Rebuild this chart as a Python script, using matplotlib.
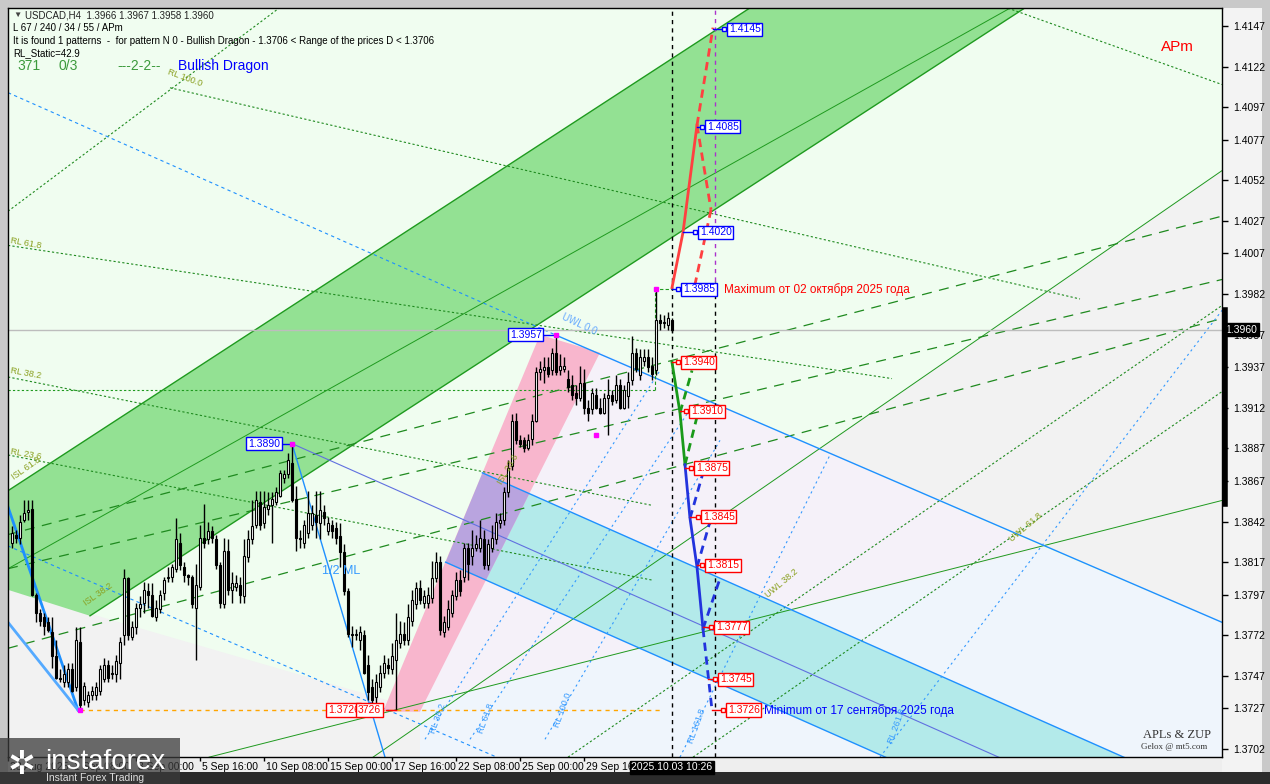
import matplotlib.pyplot as plt
from matplotlib.patches import Polygon, Rectangle

plt.rcParams['font.family'] = ['Liberation Sans', 'DejaVu Sans']

# H4 candles, bar 0 .. 165 (last = 2025.10.03 08:00)
opens = [1.3829, 1.3834, 1.3832, 1.3843, 1.3848, 1.3850, 1.3797, 1.3786, 1.3783, 1.3780,
         1.3774, 1.3759, 1.3746, 1.3743, 1.3743, 1.3751, 1.3740, 1.3768, 1.3732, 1.3731,
         1.3735, 1.3735, 1.3738, 1.3745, 1.3754, 1.3749, 1.3748, 1.3755, 1.3772, 1.3807,
         1.3771, 1.3777, 1.3789, 1.3792, 1.3799, 1.3797, 1.3783, 1.3788, 1.3798, 1.3807,
         1.3808, 1.3813, 1.3829, 1.3814, 1.3809, 1.3808, 1.3789, 1.3802, 1.3832, 1.3831,
         1.3836, 1.3831, 1.3815, 1.3791, 1.3824, 1.3800, 1.3802, 1.3803, 1.3796, 1.3820,
         1.3831, 1.3840, 1.3854, 1.3841, 1.3850, 1.3852, 1.3854, 1.3858, 1.3869, 1.3871,
         1.3878, 1.3856, 1.3832, 1.3829, 1.3835, 1.3840, 1.3846, 1.3841, 1.3848, 1.3836,
         1.3840, 1.3838, 1.3833, 1.3823, 1.3799, 1.3773, 1.3772, 1.3769, 1.3772, 1.3754,
         1.3740, 1.3734, 1.3740, 1.3749, 1.3754, 1.3751, 1.3757, 1.3767, 1.3773, 1.3769,
         1.3781, 1.3791, 1.3801, 1.3792, 1.3792, 1.3795, 1.3807, 1.3817, 1.3774, 1.3777,
         1.3786, 1.3796, 1.3806, 1.3808, 1.3826, 1.3821, 1.3826, 1.3826, 1.3831, 1.3815,
         1.3826, 1.3831, 1.3841, 1.3843, 1.3860, 1.3876, 1.3904, 1.3892, 1.3892, 1.3887,
         1.3893, 1.3904, 1.3934, 1.3935, 1.3937, 1.3935, 1.3946, 1.3935, 1.3936, 1.3930,
         1.3926, 1.3921, 1.3918, 1.3927, 1.3912, 1.3911, 1.3920, 1.3912, 1.3909, 1.3918,
         1.3920, 1.3917, 1.3926, 1.3912, 1.3919, 1.3929, 1.3946, 1.3932, 1.3941, 1.3943,
         1.3938, 1.3935, 1.3966, 1.3964, 1.3963, 1.3966]
highs = [1.3839, 1.3837, 1.3846, 1.3855, 1.3855, 1.3855, 1.3798, 1.3788, 1.3786, 1.3783,
         1.3783, 1.3769, 1.3751, 1.3754, 1.3755, 1.3755, 1.3777, 1.3777, 1.3743, 1.3738,
         1.3741, 1.3743, 1.3754, 1.3758, 1.3757, 1.3754, 1.3760, 1.3771, 1.3813, 1.3808,
         1.3781, 1.3792, 1.3796, 1.3805, 1.3804, 1.3804, 1.3794, 1.3800, 1.3808, 1.3814,
         1.3816, 1.3844, 1.3835, 1.3817, 1.3810, 1.3809, 1.3816, 1.3840, 1.3853, 1.3842,
         1.3839, 1.3834, 1.3817, 1.3832, 1.3831, 1.3811, 1.3809, 1.3808, 1.3831, 1.3837,
         1.3855, 1.3861, 1.3861, 1.3861, 1.3860, 1.3860, 1.3863, 1.3874, 1.3874, 1.3884,
         1.3890, 1.3864, 1.3837, 1.3843, 1.3861, 1.3852, 1.3861, 1.3861, 1.3852, 1.3845,
         1.3843, 1.3842, 1.3841, 1.3828, 1.3801, 1.3778, 1.3776, 1.3778, 1.3775, 1.3760,
         1.3745, 1.3748, 1.3754, 1.3760, 1.3758, 1.3767, 1.3786, 1.3781, 1.3780, 1.3791,
         1.3800, 1.3805, 1.3806, 1.3800, 1.3802, 1.3818, 1.3823, 1.3821, 1.3784, 1.3794,
         1.3800, 1.3811, 1.3812, 1.3829, 1.3829, 1.3837, 1.3834, 1.3843, 1.3837, 1.3831,
         1.3840, 1.3847, 1.3847, 1.3863, 1.3880, 1.3908, 1.3909, 1.3895, 1.3894, 1.3896,
         1.3908, 1.3937, 1.3941, 1.3943, 1.3943, 1.3949, 1.3957, 1.3945, 1.3943, 1.3935,
         1.3932, 1.3926, 1.3938, 1.3936, 1.3917, 1.3924, 1.3924, 1.3918, 1.3921, 1.3930,
         1.3923, 1.3932, 1.3930, 1.3926, 1.3934, 1.3956, 1.3949, 1.3948, 1.3948, 1.3948,
         1.3943, 1.3985, 1.3970, 1.3969, 1.3971, 1.3967]
lows = [1.3826, 1.3829, 1.3828, 1.3842, 1.3843, 1.3796, 1.3780, 1.3778, 1.3772, 1.3774,
        1.3752, 1.3745, 1.3743, 1.3740, 1.3740, 1.3737, 1.3738, 1.3726, 1.3729, 1.3728,
        1.3732, 1.3732, 1.3735, 1.3743, 1.3743, 1.3745, 1.3743, 1.3745, 1.3766, 1.3769,
        1.3769, 1.3773, 1.3783, 1.3786, 1.3789, 1.3783, 1.3781, 1.3786, 1.3794, 1.3805,
        1.3805, 1.3811, 1.3812, 1.3805, 1.3803, 1.3789, 1.3757, 1.3800, 1.3826, 1.3828,
        1.3829, 1.3813, 1.3789, 1.3789, 1.3797, 1.3792, 1.3799, 1.3792, 1.3792, 1.3817,
        1.3828, 1.3838, 1.3837, 1.3838, 1.3846, 1.3829, 1.3852, 1.3857, 1.3866, 1.3869,
        1.3854, 1.3824, 1.3826, 1.3826, 1.3832, 1.3837, 1.3832, 1.3831, 1.3840, 1.3834,
        1.3832, 1.3828, 1.3814, 1.3797, 1.3771, 1.3765, 1.3769, 1.3763, 1.3748, 1.3732,
        1.3729, 1.3729, 1.3737, 1.3746, 1.3748, 1.3748, 1.3726, 1.3764, 1.3766, 1.3766,
        1.3778, 1.3788, 1.3791, 1.3789, 1.3789, 1.3792, 1.3805, 1.3772, 1.3771, 1.3775,
        1.3783, 1.3794, 1.3796, 1.3805, 1.3806, 1.3815, 1.3824, 1.3823, 1.3813, 1.3812,
        1.3823, 1.3828, 1.3838, 1.3840, 1.3857, 1.3874, 1.3890, 1.3888, 1.3885, 1.3886,
        1.3889, 1.3903, 1.3929, 1.3927, 1.3931, 1.3932, 1.3932, 1.3932, 1.3934, 1.3922,
        1.3917, 1.3914, 1.3916, 1.3908, 1.3904, 1.3908, 1.3911, 1.3908, 1.3908, 1.3895,
        1.3914, 1.3915, 1.3911, 1.3911, 1.3912, 1.3926, 1.3934, 1.3929, 1.3938, 1.3934,
        1.3929, 1.3932, 1.3960, 1.3961, 1.3960, 1.3958]
closes = [1.3835, 1.3832, 1.3842, 1.3847, 1.3849, 1.3797, 1.3786, 1.3781, 1.3778, 1.3775,
          1.3759, 1.3746, 1.3745, 1.3748, 1.3751, 1.3738, 1.3769, 1.3729, 1.3741, 1.3735,
          1.3738, 1.3740, 1.3751, 1.3754, 1.3746, 1.3748, 1.3756, 1.3768, 1.3807, 1.3772,
          1.3777, 1.3789, 1.3791, 1.3800, 1.3797, 1.3784, 1.3789, 1.3797, 1.3806, 1.3808,
          1.3814, 1.3831, 1.3815, 1.3809, 1.3808, 1.3791, 1.3803, 1.3832, 1.3829, 1.3836,
          1.3832, 1.3815, 1.3792, 1.3824, 1.3800, 1.3804, 1.3804, 1.3797, 1.3821, 1.3831,
          1.3839, 1.3855, 1.3840, 1.3851, 1.3852, 1.3856, 1.3860, 1.3872, 1.3871, 1.3880,
          1.3855, 1.3832, 1.3831, 1.3840, 1.3847, 1.3847, 1.3842, 1.3849, 1.3844, 1.3841,
          1.3836, 1.3832, 1.3823, 1.3799, 1.3773, 1.3772, 1.3773, 1.3774, 1.3749, 1.3737,
          1.3732, 1.3743, 1.3749, 1.3755, 1.3752, 1.3759, 1.3769, 1.3773, 1.3769, 1.3783,
          1.3794, 1.3801, 1.3794, 1.3796, 1.3797, 1.3807, 1.3817, 1.3775, 1.3780, 1.3788,
          1.3797, 1.3806, 1.3799, 1.3826, 1.3816, 1.3826, 1.3828, 1.3832, 1.3815, 1.3828,
          1.3832, 1.3842, 1.3843, 1.3860, 1.3875, 1.3904, 1.3892, 1.3890, 1.3887, 1.3892,
          1.3904, 1.3934, 1.3936, 1.3937, 1.3933, 1.3946, 1.3934, 1.3938, 1.3938, 1.3925,
          1.3920, 1.3918, 1.3927, 1.3912, 1.3909, 1.3921, 1.3912, 1.3909, 1.3918, 1.3920,
          1.3916, 1.3926, 1.3912, 1.3923, 1.3928, 1.3946, 1.3936, 1.3943, 1.3943, 1.3937,
          1.3933, 1.3966, 1.3964, 1.3965, 1.3967, 1.3960]

price_ticks = [1.4147, 1.4122, 1.4097, 1.4077, 1.4052, 1.4027, 1.4007, 1.3982, 1.3957,
               1.3937, 1.3912, 1.3887, 1.3867, 1.3842, 1.3817, 1.3797, 1.3772, 1.3747,
               1.3727, 1.3702]
time_ticks = [-1, 15, 31, 47, 63, 79, 95, 111, 127, 143]
time_labels = ['28 Aug 2025', '1 Sep 08:00', '3 Sep 00:00', '5 Sep 16:00', '10 Sep 08:00',
               '15 Sep 00:00', '17 Sep 16:00', '22 Sep 08:00', '25 Sep 00:00', '29 Sep 16:00']
last_price = 1.3960

# forecast zigzags (bar, price)
red_solid = ([165, 167.75, 171.25], [1.3986, 1.4020, 1.4086])
red_dash = [([171.25, 175.25], [1.4086, 1.4146]), ([171.25, 174.75], [1.4086, 1.4034]),
            ([174.75, 170.75], [1.4034, 1.3988])]
green_solid = ([165, 167, 168.25], [1.3940, 1.3909, 1.3877])
green_dash = [([167, 170], [1.3909, 1.3935]), ([168.25, 171.5], [1.3877, 1.3909])]
blue_solid = ([168.25, 169.5, 171.25, 172.75], [1.3877, 1.3844, 1.3814, 1.3776])
blue_dash = [([169.5, 172.75], [1.3844, 1.3872]), ([171.25, 174.5], [1.3814, 1.3842]),
             ([172.75, 177], [1.3776, 1.3807]), ([172.75, 175], [1.3776, 1.3726])]

# level boxes: (text bar, price, text, colour, anchor bar)
levels = [(179.25, 1.4145, '1.4145', 'blue', 175.25), (173.75, 1.4085, '1.4085', 'blue', 171.25),
          (172.0, 1.4020, '1.4020', 'blue', 167.75), (167.75, 1.3985, '1.3985', 'blue', 165.0),
          (167.75, 1.3940, '1.3940', 'red', 165.0), (169.75, 1.3910, '1.3910', 'red', 167.0),
          (171.0, 1.3875, '1.3875', 'red', 168.25), (172.75, 1.3845, '1.3845', 'red', 169.5),
          (173.75, 1.3815, '1.3815', 'red', 171.25), (176.0, 1.3777, '1.3777', 'red', 172.75),
          (177.0, 1.3745, '1.3745', 'red', 174.0), (179.0, 1.3726, '1.3726', 'red', 175.0)]

# fan / channel lines (bar, price) pairs
green_long_dash = [([-1, 302.5], [1.3834, 1.4030]), ([-1, 302.5], [1.3813, 1.3991]),
                   ([-1, 302.5], [1.3764, 1.3967])]
green_thin = [([49.25, 302.5], [1.3697, 1.3855]), ([90.25, 302.5], [1.3697, 1.4058]),
              ([-1, 249.5], [1.3813, 1.4158])]
green_dotted = [([39.5, 267], [1.4109, 1.3979]), ([-1, 220], [1.4012, 1.3930]),
                ([-1, 160], [1.3931, 1.3852]), ([-1, 160], [1.3883, 1.3806]),
                ([-1, 66.75], [1.4033, 1.4158]), ([139, 302.5], [1.3697, 1.3975]),
                ([170.25, 302.5], [1.3697, 1.3922]), ([249, 302.5], [1.4158, 1.4111])]
blue_dotted = [([103.25, 162], [1.3708, 1.3935]), ([114.5, 169.5], [1.3708, 1.3911]),
               ([133.25, 177], [1.3708, 1.3892]), ([167, 204.5], [1.3697, 1.3883]),
               ([217, 302.5], [1.3697, 1.3972])]

fig = plt.figure(figsize=(12.7, 7.84), dpi=100, facecolor='#c9c9c9')
# panels of the terminal window
fig.patches.append(Rectangle((8 / 1270, 12 / 784), 1254 / 1270, 19 / 784, transform=fig.transFigure,
                             facecolor='#eeeeee', edgecolor='none', zorder=-5))
fig.patches.append(Rectangle((1222 / 1270, 12 / 784), 40 / 1270, 764 / 784, transform=fig.transFigure,
                             facecolor='#f3f3f3', edgecolor='none', zorder=-5))
fig.patches.append(Rectangle((0, 0), 1, 12 / 784, transform=fig.transFigure,
                             facecolor='#2b2b2b', edgecolor='none', zorder=-5))

ax = fig.add_axes([8 / 1270, 27 / 784, 1214 / 1270, 749 / 784])
ax.set_xlim(-1, 302.5)
ax.set_ylim(1.36971, 1.41581)
ax.set_facecolor('#f0fdf0')

# background zones
zones = [([(-1, 1.3800), (140, 1.3699), (-1, 1.3690)], '#f2f2f2'),
         ([(201.75, 1.3887), (307, 1.4066), (307, 1.3775)], '#f2f2f2'),
         ([(147, 1.3946), (258, 1.3826), (102, 1.3730)], '#f5f1f9'),
         ([(102, 1.3730), (258, 1.3826), (307, 1.3775), (307, 1.3690), (102, 1.3690)], '#eff5fc')]
for pts, col in zones:
    ax.add_patch(Polygon(pts, closed=True, facecolor=col, edgecolor='none', zorder=0))

# green channel
ax.add_patch(Polygon([(-1, 1.3861), (200, 1.4183), (270, 1.4185), (19.5, 1.3784), (-1, 1.3800)],
                     closed=True, facecolor='#93e193', edgecolor='none', zorder=1))
ax.plot([-1, 200], [1.3861, 1.4183], color='#1f9a1f', lw=1, zorder=2)
ax.plot([19.5, 270], [1.3784, 1.4185], color='#1f9a1f', lw=1, zorder=2)
for xs, ys in green_thin:
    ax.plot(xs, ys, color='#1f9a1f', lw=0.7, zorder=2)
for xs, ys in green_long_dash:
    ax.plot(xs, ys, color='#1f8a1f', lw=0.9, ls=(0, (8, 6)), zorder=2)
for xs, ys in green_dotted:
    ax.plot(xs, ys, color='#1f8a1f', lw=0.8, ls=(0, (2, 2)), zorder=2)

# turquoise pitchfork band, pink band and their overlap
turq = Polygon([(117.6, 1.3872), (310, 1.3662), (310, 1.3597), (108.4, 1.3817)], closed=True,
               facecolor='#b3eaea', edgecolor='none', zorder=1)
ax.add_patch(turq)
pink_pts = [(92.75, 1.3725), (102, 1.3725), (147, 1.3946), (132, 1.3957)]
ax.add_patch(Polygon(pink_pts, closed=True, facecolor='#f8b6cd', edgecolor='none', zorder=1))
overlap = Polygon(pink_pts, closed=True, facecolor='#b9a4df', edgecolor='none', zorder=1)
ax.add_patch(overlap)
overlap.set_clip_path(turq)

blue = '#1e90ff'
ax.plot([117.6, 310], [1.3872, 1.3662], color=blue, lw=1, zorder=2)
ax.plot([108.4, 310], [1.3817, 1.3597], color=blue, lw=1, zorder=2)
ax.plot([70, 302.5], [1.3890, 1.3636], color='#6070e0', lw=0.8, zorder=2)
ax.plot([135.75, 302.5], [1.3957, 1.3780], color=blue, lw=1, zorder=2)
ax.plot([70, 93.25], [1.3890, 1.3697], color=blue, lw=1, zorder=2)
ax.plot([-1, 16.5], [1.3851, 1.3726], color=blue, lw=2, zorder=2)
ax.plot([-1, 16.5], [1.3780, 1.3726], color='#55aaff', lw=2, zorder=2)
ax.plot([-1, 140], [1.3827, 1.3677], color=blue, lw=0.8, ls=(0, (3, 3)), zorder=2)
ax.plot([-1, 135.75], [1.4106, 1.3957], color=blue, lw=0.8, ls=(0, (3, 3)), zorder=2)
for xs, ys in blue_dotted:
    ax.plot(xs, ys, color='#3399ff', lw=0.8, ls=(0, (2, 3)), zorder=2)

# support levels
ax.plot([17, 162], [1.3726, 1.3726], color='orange', lw=1, ls=(0, (3, 3)), zorder=2)
ax.plot([-1, 160.75], [1.3923, 1.3923], color='#1f9a1f', lw=0.8, ls=(0, (2, 2)), zorder=2)
ax.plot([160.75, 160.75, 165], [1.3923, 1.3985, 1.3985], color='#1f9a1f', lw=0.8,
        ls=(0, (3, 2)), zorder=3)
ax.axhline(last_price, color='#bdbdbd', lw=1, zorder=2)
ax.axvline(165, color='black', lw=1, ls=(0, (3, 3)), zorder=3)
ax.plot([175.75, 175.75], [1.3697, 1.3990], color='black', lw=1, ls=(0, (3, 3)), zorder=3)
ax.plot([175.75, 175.75], [1.3990, 1.4160], color='#aa33cc', lw=1, ls=(0, (3, 3)), zorder=3)

# candles
idx = list(range(len(closes)))
ax.vlines(idx, lows, highs, color='black', lw=1, zorder=4)
bottoms = [min(o, c) for o, c in zip(opens, closes)]
heights = [max(abs(c - o), 0.00004) for o, c in zip(opens, closes)]
fills = ['white' if c >= o else 'black' for o, c in zip(opens, closes)]
ax.bar(idx, heights, 0.72, bottoms, color=fills, edgecolor='black', lw=0.8, zorder=5)

# forecast zigzags
ax.plot(*red_solid, color='#ff4040', lw=2, zorder=6)
for xs, ys in red_dash:
    ax.plot(xs, ys, color='#ff4040', lw=2, ls=(0, (3, 2)), zorder=6)
ax.plot(*green_solid, color='#1a9a1a', lw=2, zorder=6)
for xs, ys in green_dash:
    ax.plot(xs, ys, color='#1a9a1a', lw=2, ls=(0, (3, 2)), zorder=6)
ax.plot(*blue_solid, color='#2233dd', lw=2, zorder=6)
for xs, ys in blue_dash:
    ax.plot(xs, ys, color='#2233dd', lw=2, ls=(0, (3, 2)), zorder=6)

for tx, p, s, col, ax0 in levels:
    ax.plot([ax0, tx - 1.2], [p, p], color=col, lw=1, zorder=6)
    ax.plot([tx - 1.2], [p], marker='s', ms=3, mfc='white', mec=col, mew=1, zorder=7)
    ax.text(tx, p, s, color=col, fontsize=7.5, va='center', ha='left', zorder=8,
            bbox=dict(boxstyle='square,pad=0.15', fc='white', ec=col, lw=1))

for bx, p, s in [(59, 1.3890, '1.3890'), (124.5, 1.3957, '1.3957')]:
    ax.text(bx, p, s, color='blue', fontsize=7.5, va='center', ha='left', zorder=8,
            bbox=dict(boxstyle='square,pad=0.15', fc='white', ec='blue', lw=1))
ax.plot([67, 70], [1.3890, 1.3890], color='blue', lw=1, zorder=7)
ax.plot([133, 136], [1.3957, 1.3957], color='blue', lw=1, zorder=7)
ax.text(79, 1.3726, '1.3726', color='red', fontsize=7.5, va='center', ha='left', zorder=8,
        bbox=dict(boxstyle='square,pad=0.15', fc='white', ec='red', lw=1))
ax.text(86.5, 1.3726, '3726', color='red', fontsize=7.5, va='center', ha='left', zorder=8,
        bbox=dict(boxstyle='square,pad=0.15', fc='white', ec='red', lw=1))
ax.plot([93.5, 96], [1.3726, 1.3726], color='red', lw=1, zorder=7)
for bx, p in [(17, 1.3726), (70, 1.3890), (136, 1.3957), (161, 1.3985), (146, 1.3895)]:
    ax.plot([bx], [p], marker='s', ms=3, color='magenta', zorder=7)

ax.text(178, 1.3985, 'Maximum от 02 октября 2025 года', color='red', fontsize=8.5, va='center', zorder=8)
ax.text(188, 1.3726, 'Minimum от 17 сентября 2025 года', color='blue', fontsize=8.5, va='center', zorder=8)
ax.text(77.5, 1.3810, '1/2 ML', color='#3399ff', fontsize=9, zorder=8)
ax.text(137, 1.3957, 'UWL 0.0', color='#66aaff', fontsize=7, rotation=-25, zorder=8)

# fibo level captions
olive = '#8aa020'
for bx, p, s, rot in [(38.5, 1.4110, 'RL 100.0', -20), (-0.5, 1.4010, 'RL 61.8', -10),
                      (-0.5, 1.3930, 'RL 38.2', -10), (-0.5, 1.3880, 'RL 23.6', -10),
                      (-0.5, 1.3868, 'ISL 61.8', 35), (17.5, 1.3790, 'ISL 38.2', 35),
                      (188, 1.3795, 'UWL 38.2', 40), (249, 1.3830, 'UWL 61.8', 40),
                      (121, 1.3865, 'ISL 23.6', 60)]:
    ax.text(bx, p, s, color=olive, fontsize=6.5, rotation=rot, zorder=8)
for bx, p, s in [(104, 1.3712, 'RL 38.2'), (116, 1.3712, 'RL 61.8'), (135, 1.3716, 'RL 100.0'),
                 (168.5, 1.3706, 'RL 161.8'), (218.5, 1.3706, 'RL 261.8')]:
    ax.text(bx, p, s, color='#3399ff', fontsize=6.5, rotation=70, zorder=8)

# header
hdr = dict(transform=ax.transAxes, fontsize=7, va='center', zorder=9)
ax.text(0.004, 0.990, '▼', color='#444444', fontsize=6, transform=ax.transAxes, va='center', zorder=9)
ax.text(0.014, 0.990, 'USDCAD,H4  1.3966 1.3967 1.3958 1.3960', color='#222222', **hdr)
ax.text(0.004, 0.973, 'L 67 / 240 / 34 / 55 / APm', color='black', **hdr)
ax.text(0.004, 0.956, 'It is found 1 patterns  -  for pattern N 0 - Bullish Dragon - 1.3706 < Range of the prices D < 1.3706',
        color='black', **hdr)
ax.text(0.004, 0.940, 'RL_Static=42.9', color='black', **hdr)
big = dict(transform=ax.transAxes, fontsize=10, va='center', zorder=9)
ax.text(0.008, 0.922, '371', color='#3c9a3c', **big)
ax.text(0.042, 0.922, '0/3', color='#3c9a3c', **big)
ax.text(0.090, 0.922, '---2-2--', color='#3c9a3c', **big)
ax.text(0.140, 0.922, 'Bullish Dragon', color='blue', **big)
ax.text(0.950, 0.948, 'APm', color='red', fontsize=11, transform=ax.transAxes, va='center', zorder=9)
ax.text(0.935, 0.030, 'APLs & ZUP', color='#333333', fontsize=9, family='Liberation Serif',
        transform=ax.transAxes, va='center', zorder=9)
ax.text(0.933, 0.014, 'Gelox @ mt5.com', color='#333333', fontsize=6.5, family='Liberation Serif',
        transform=ax.transAxes, va='center', zorder=9)

# price axis
ax.yaxis.tick_right()
ax.set_yticks(price_ticks)
ax.set_yticklabels([f'{p:.4f}' for p in price_ticks], fontsize=7.5)
ax.tick_params(axis='y', length=4, pad=4, width=1)
ax.set_xticks(time_ticks)
ax.set_xticklabels([])
ax.tick_params(axis='x', length=3, width=1)
for t, lab in zip(time_ticks, time_labels):
    ax.text(t + 0.5, -0.014, lab, transform=ax.get_xaxis_transform(), fontsize=7.5,
            ha='left', va='center', clip_on=False)
ax.text(302.5 + 0.8, last_price, f'{last_price:.4f}', color='white', fontsize=7.5, va='center',
        ha='left', clip_on=False, zorder=10,
        bbox=dict(boxstyle='square,pad=0.15', fc='black', ec='black'))
ax.text(165, -0.014, '2025.10.03 10:26', transform=ax.get_xaxis_transform(), color='white',
        fontsize=7.5, ha='center', va='center', clip_on=False, zorder=10,
        bbox=dict(boxstyle='square,pad=0.15', fc='black', ec='black'))
ax.plot([303.2, 303.2], [1.3853, 1.3972], color='black', lw=4, clip_on=False, zorder=10)
for s in ax.spines.values():
    s.set_color('black')
    s.set_linewidth(1)

# broker logo
fig.patches.append(Rectangle((0, 0), 180 / 1270, 46 / 784, transform=fig.transFigure,
                             facecolor='#3a3a3a', alpha=0.75, edgecolor='none', zorder=20))
fig.text(45 / 1270, 22 / 784, 'instaforex', color='white', fontsize=20, va='center', zorder=21)
fig.text(46 / 1270, 6 / 784, 'Instant Forex Trading', color='#dddddd', fontsize=7.5, va='center', zorder=21)
fig.text(8 / 1270, 20 / 784, '✲', color='white', fontsize=24, va='center', family='DejaVu Sans', zorder=21)

fig.savefig('out.png', dpi=100, facecolor=fig.get_facecolor())
